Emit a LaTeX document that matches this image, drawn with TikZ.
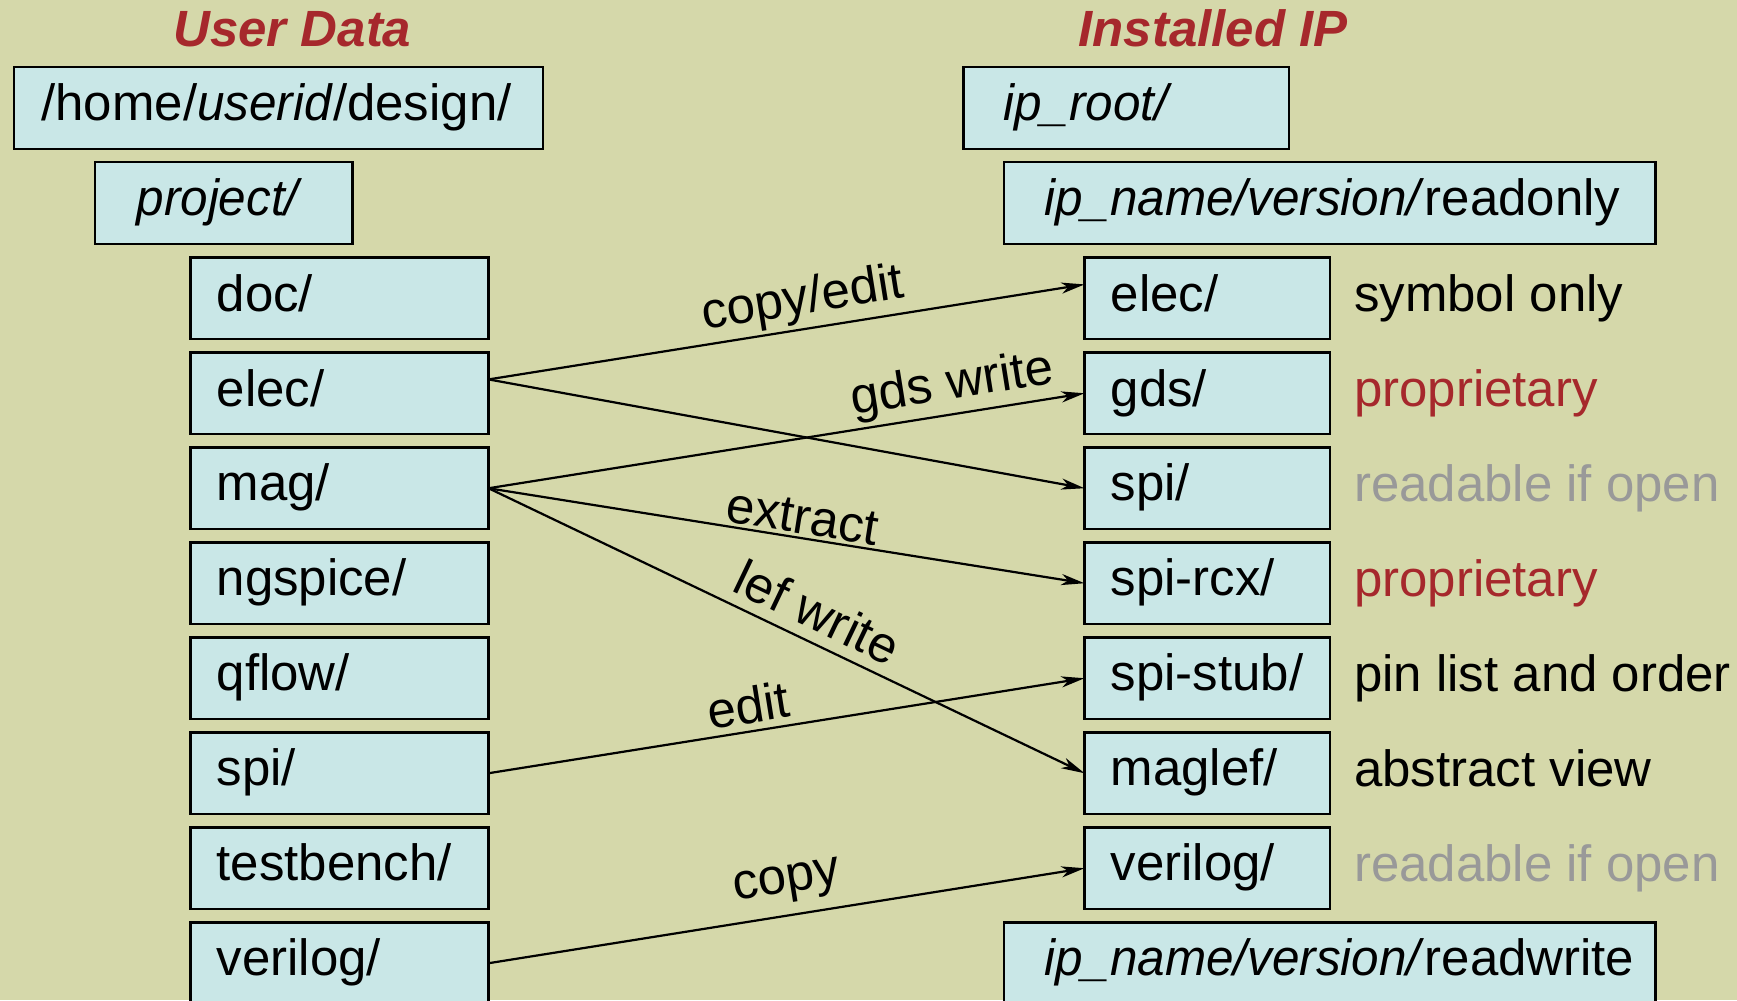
\documentclass[tikz,border=0pt]{standalone}
\usepackage{fontspec}
\setmainfont{Liberation Sans}[ItalicFeatures={FakeStretch=0.97}]
\usetikzlibrary{arrows.meta}
\definecolor{bgcol}{RGB}{213,216,170}
\definecolor{boxcol}{RGB}{201,231,231}
\definecolor{darkred}{RGB}{166,40,44}
\definecolor{softgray}{RGB}{153,153,153}
\newcommand{\mkdirbox}[7]{%
  \node[dirbox, minimum width=#4*0.5pt, minimum height=#5*0.5pt] (#1) at (#2,#3) {};
  \node[dirtext] (#1-txt) at ([xshift=#6pt, yshift=-5.75pt]#1.west) {#7};
}
\begin{document}
\begin{tikzpicture}[x=0.5pt,y=-0.5pt,
  dirbox/.style={draw=black, line width=1pt, fill=boxcol, inner sep=0pt, outer sep=0pt, anchor=north west},
  dirtext/.style={anchor=base west, inner sep=0pt, font=\fontsize{23}{27}\selectfont},
  titletext/.style={anchor=base, inner sep=0pt, font=\fontsize{23}{27}\selectfont\bfseries\itshape, text=darkred},
  notetext/.style={anchor=base west, inner sep=0pt, font=\fontsize{23}{27}\selectfont},
  flow/.style={line width=1pt, -{Stealth[length=10.5pt,width=5pt,inset=3pt]}},
  lbl/.style={sloped, anchor=south, inner sep=0pt, font=\fontsize{23}{27}\selectfont}]
\useasboundingbox (0,0) rectangle (1568,903);
\fill[bgcol] (0,0) rectangle (1568,903);

% titles
\node[titletext] (userdata) at (264,42) {User Data};
\node[titletext] (installed) at (1095,42) {Installed IP};

% user data tree
\mkdirbox{home}{12.4}{60.5}{478}{74}{12.3}{/home/\textit{userid}/design/}
\mkdirbox{project}{85.7}{146.5}{232.5}{73.5}{18.6}{\textit{project/}}
\mkdirbox{l-doc}{172}{232.5}{269}{73.5}{11.6}{doc/}
\mkdirbox{l-elec}{172}{318.25}{269}{73.5}{11.6}{elec/}
\mkdirbox{l-mag}{172}{404}{269}{73.5}{11.6}{mag/}
\mkdirbox{l-ngspice}{172}{489.75}{269}{73.5}{11.6}{ngspice/}
\mkdirbox{l-qflow}{172}{575.5}{269}{73.5}{11.6}{qflow/}
\mkdirbox{l-spi}{172}{661.25}{269}{73.5}{11.6}{spi/}
\mkdirbox{l-testbench}{172}{747}{269}{73.5}{11.6}{testbench/}
\mkdirbox{l-verilog}{172}{832.75}{269}{73.5}{11.6}{verilog/}

% installed IP tree
\mkdirbox{iproot}{869.8}{60.5}{293.7}{74}{17.8}{\textit{ip\_root/}}
\mkdirbox{ipro}{906.5}{146.5}{588}{73.5}{17.8}{\textit{ip\_name/version/}readonly}
\mkdirbox{r-elec}{979}{232.5}{221.5}{73.5}{11.6}{elec/}
\mkdirbox{r-gds}{979}{318.25}{221.5}{73.5}{11.6}{gds/}
\mkdirbox{r-spi}{979}{404}{221.5}{73.5}{11.6}{spi/}
\mkdirbox{r-spircx}{979}{489.75}{221.5}{73.5}{11.6}{spi-rcx/}
\mkdirbox{r-spistub}{979}{575.5}{221.5}{73.5}{11.6}{spi-stub/}
\mkdirbox{r-maglef}{979}{661.25}{221.5}{73.5}{11.6}{maglef/}
\mkdirbox{r-verilog}{979}{747}{221.5}{73.5}{11.6}{verilog/}
\mkdirbox{iprw}{906.5}{832.75}{588}{73.5}{17.8}{\textit{ip\_name/version/}readwrite}

% notes
\node[notetext] (n-elec) at (1222,281.5) {symbol only};
\node[notetext, text=darkred] (n-gds) at (1222,367.25) {proprietary};
\node[notetext, text=softgray] (n-spi) at (1222,453) {readable if open};
\node[notetext, text=darkred] (n-spircx) at (1222,538.75) {proprietary};
\node[notetext] (n-spistub) at (1222,624.5) {pin list and order};
\node[notetext] (n-maglef) at (1222,710.25) {abstract view};
\node[notetext, text=softgray] (n-verilog) at (1222,796) {readable if open};

% connectors
\draw[flow] ([yshift=6.25pt]l-elec.east) -- node[lbl, above=1.6pt, pos=0.535] (lab-copyedit) {copy/edit} ([yshift=6.25pt]r-elec.west);
\draw[flow] ([yshift=6.25pt]l-elec.east) -- (r-spi.west);
\draw[flow] (l-mag.east) -- node[lbl, above=1.5pt, pos=0.786] (lab-gds) {gds write} (r-gds.west);
\draw[flow] (l-mag.east) -- node[lbl, above=1.25pt, pos=0.521] (lab-extract) {extract} (r-spircx.west);
\draw[flow] (l-mag.east) -- node[lbl, above=4.7pt, pos=0.53] (lab-lef) {lef write} (r-maglef.west);
\draw[flow] (l-spi.east) -- node[lbl, above=3pt, pos=0.443] (lab-edit) {edit} (r-spistub.west);
\draw[flow] (l-verilog.east) -- node[lbl, above=5pt, pos=0.51] (lab-copy) {copy} (r-verilog.west);
\end{tikzpicture}
\end{document}
